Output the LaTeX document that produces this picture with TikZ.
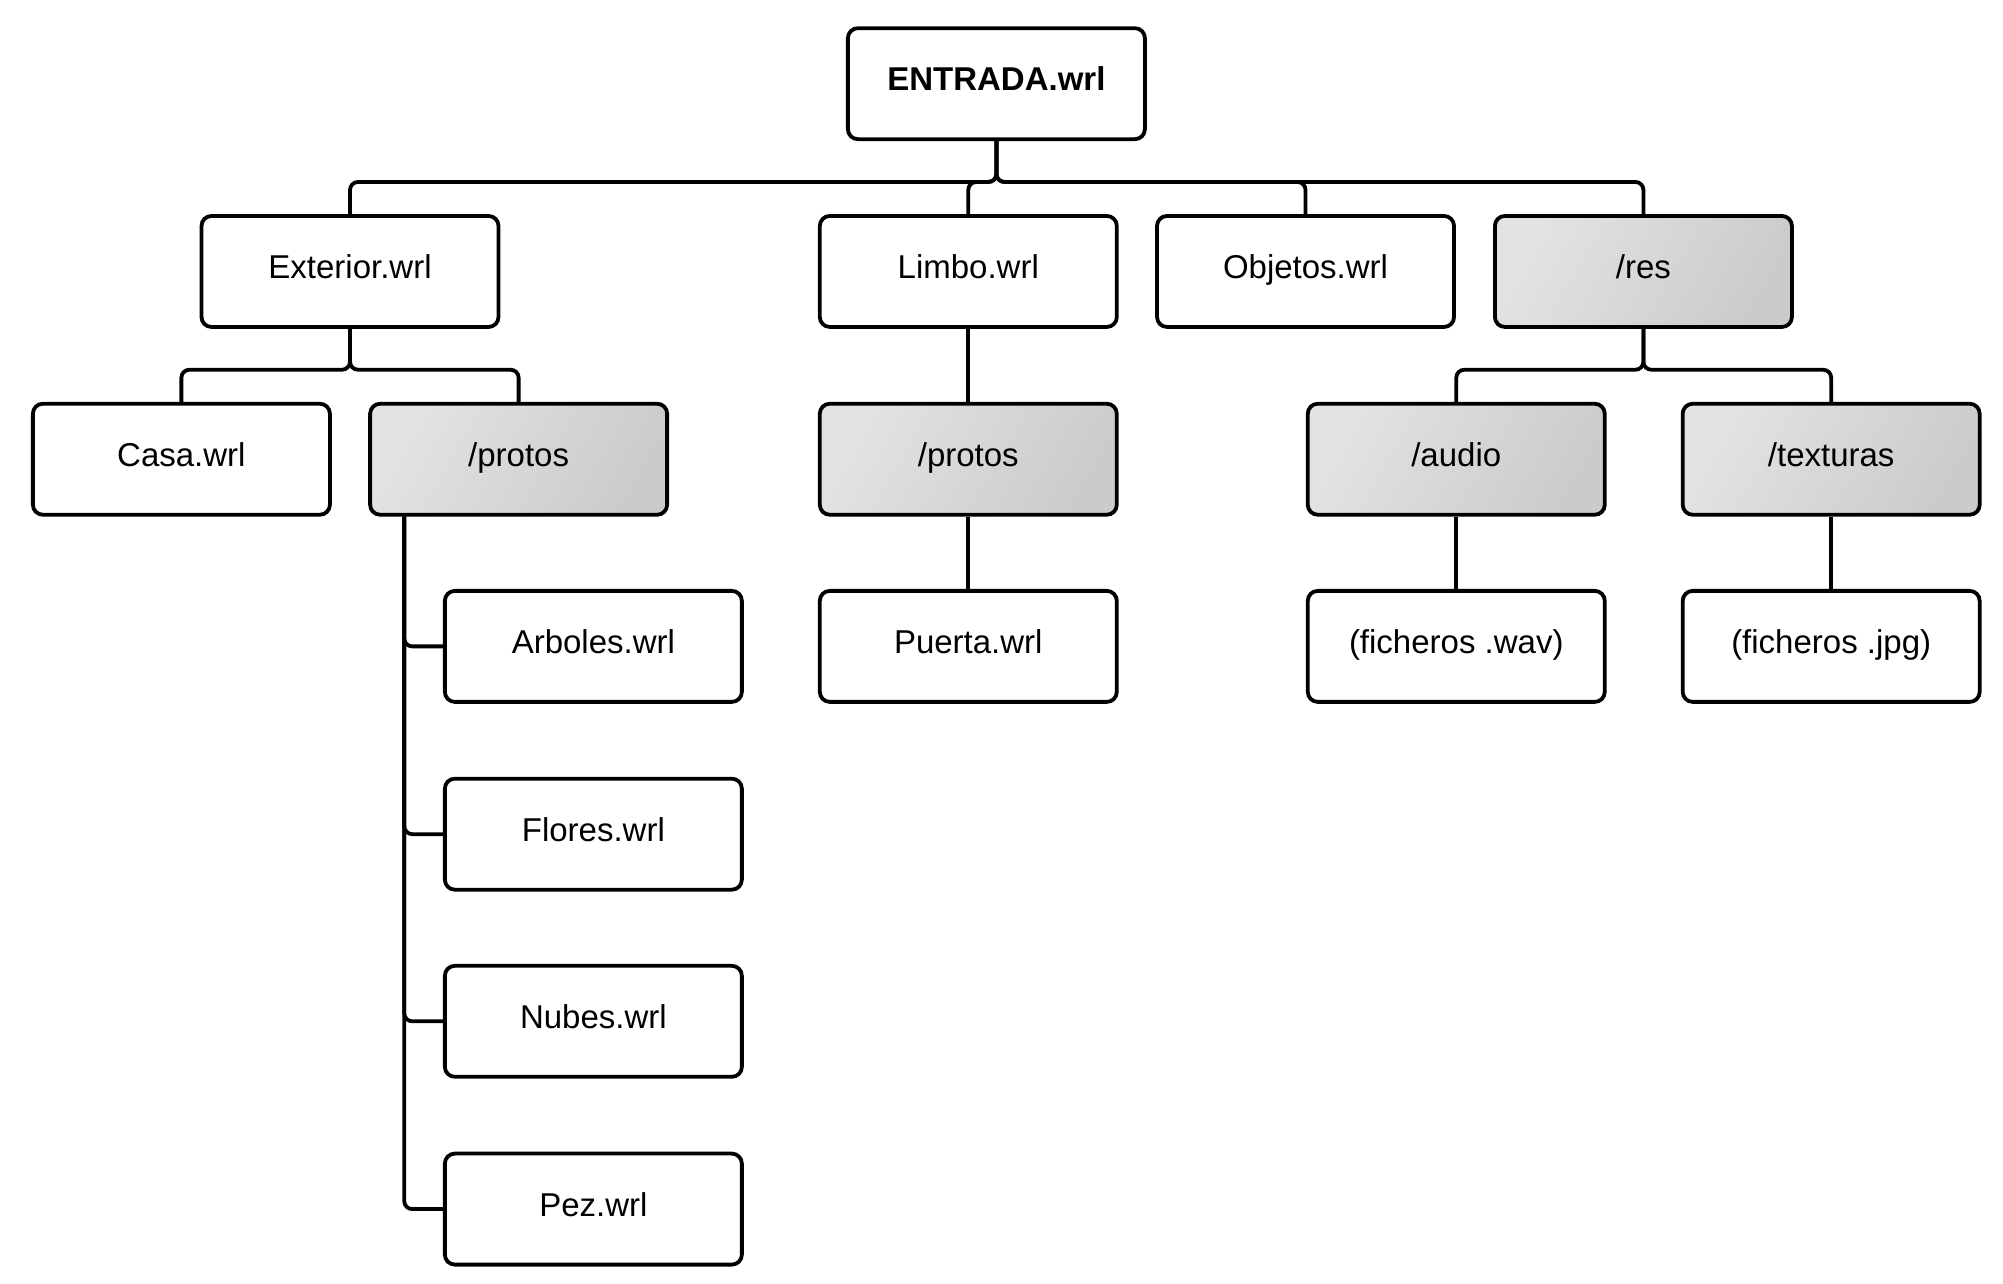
\documentclass[tikz,border=0pt]{standalone}
\usepackage{fontspec}
\setmainfont{Liberation Sans}
\usepackage{tikz}

\definecolor{dirlight}{HTML}{E3E3E3}
\definecolor{dirdark}{HTML}{CBCBCB}

\tikzset{
    filebox/.style={draw, line width=3.8pt, rounded corners=10pt, fill=white,
        minimum width=297pt, minimum height=111pt, inner sep=0pt,
        text height=24pt, text depth=9.4pt,
        font=\fontsize{33pt}{40pt}\selectfont},
    dirbox/.style={filebox, left color=dirlight, right color=dirdark, shading angle=60},
    link/.style={line width=3.8pt, rounded corners=8pt}
}

\begin{document}
\begin{tikzpicture}[x=1.2774pt, y=-1.2774pt]
        \useasboundingbox (0, 0) rectangle (1568, 1005);
        \node[filebox, font=\fontsize{33pt}{40pt}\selectfont\bfseries] (entrada) at (780, 65.5) {ENTRADA.wrl};
        \node[filebox] (exterior) at (274, 212.5) {Exterior.wrl};
        \node[filebox] (limbo) at (758, 212.5) {Limbo.wrl};
        \node[filebox] (objetos) at (1022, 212.5) {Objetos.wrl};
        \node[dirbox] (res) at (1286.5, 212.5) {/res};
        \node[filebox] (casa) at (142, 359.5) {Casa.wrl};
        \node[dirbox] (protosext) at (406, 359.5) {/protos};
        \node[dirbox] (protoslimbo) at (758, 359.5) {/protos};
        \node[dirbox] (audio) at (1140, 359.5) {/audio};
        \node[dirbox] (texturas) at (1433.5, 359.5) {/texturas};
        \node[filebox] (arboles) at (464.5, 506) {Arboles.wrl};
        \node[filebox] (flores) at (464.5, 653) {Flores.wrl};
        \node[filebox] (nubes) at (464.5, 799.5) {Nubes.wrl};
        \node[filebox] (pez) at (464.5, 946.5) {Pez.wrl};
        \node[filebox] (puerta) at (758, 506) {Puerta.wrl};
        \node[filebox] (wav) at (1140, 506) {(ficheros .wav)};
        \node[filebox] (jpg) at (1433.5, 506) {(ficheros .jpg)};
        % first level
        \draw[link] (entrada.south) -- ++(0, 32) -| (exterior.north);
        \draw[link] (entrada.south) -- ++(0, 32) -| (limbo.north);
        \draw[link] (entrada.south) -- ++(0, 32) -| (objetos.north);
        \draw[link] (entrada.south) -- ++(0, 32) -| (res.north);
        % second level
        \draw[link] (exterior.south) -- ++(0, 32) -| (casa.north);
        \draw[link] (exterior.south) -- ++(0, 32) -| (protosext.north);
        \draw[link] (limbo) -- (protoslimbo);
        \draw[link] (res.south) -- ++(0, 32) -| (audio.north);
        \draw[link] (res.south) -- ++(0, 32) -| (texturas.north);
        % third level
        \draw[link] ([xshift=36pt]protosext.south west) |- (arboles.west);
        \draw[link] ([xshift=36pt]protosext.south west) |- (flores.west);
        \draw[link] ([xshift=36pt]protosext.south west) |- (nubes.west);
        \draw[link] ([xshift=36pt]protosext.south west) |- (pez.west);
        \draw[link] (protoslimbo) -- (puerta);
        \draw[link] (audio) -- (wav);
        \draw[link] (texturas) -- (jpg);
    \end{tikzpicture}
\end{document}
